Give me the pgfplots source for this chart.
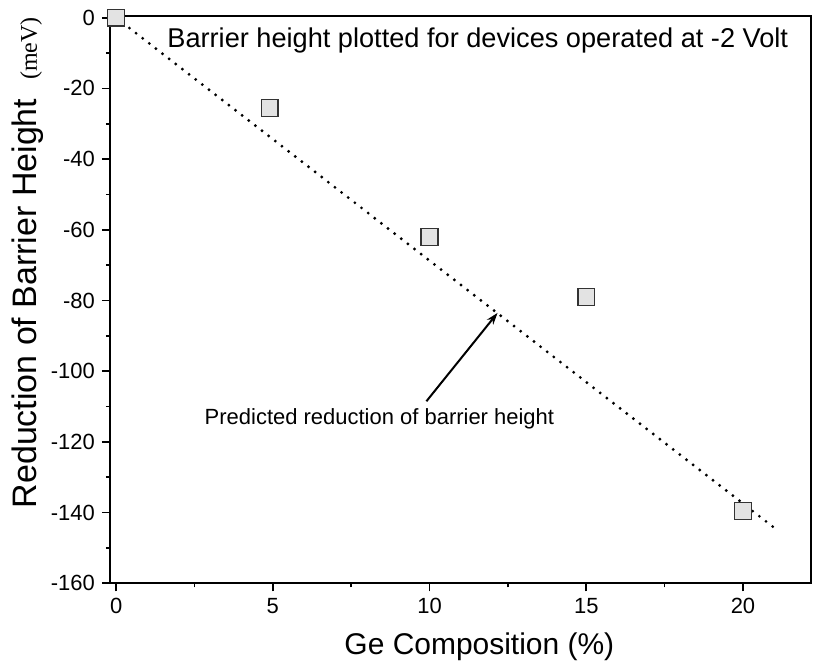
\documentclass[border=0pt]{standalone}
\usepackage{pgfplots}
\pgfplotsset{compat=1.18}
\usepackage{fontspec}
\setmainfont{Liberation Sans}
\newfontfamily\seriffont{Liberation Serif}
\usetikzlibrary{arrows.meta}
\begin{document}
\begin{tikzpicture}
\begin{axis}[
  at={(0,0)}, anchor=south west,
  scale only axis, width=351pt, height=284pt,
  xmin=-0.2, xmax=22.17, ymin=-160, ymax=0.5,
  xtick={0,5,10,15,20}, minor xtick={2.5,7.5,12.5,17.5},
  ytick={-160,-140,...,0}, minor ytick={-150,-130,...,-10},
  tick align=outside, xtick pos=bottom, ytick pos=left,
  major tick length=4pt, minor tick length=2pt,
  /pgf/number format/assume math mode=true,
  ticklabel style={font=\fontsize{11}{13}\selectfont},
  axis line style={line width=0.9pt},
  tick style={line width=0.8pt, black},
  xlabel={Ge Composition (\%)},
  xlabel style={font=\fontsize{15}{18}\selectfont, at={(axis description cs:0.527,-0.125)}, anchor=base},
  ylabel={Reduction of Barrier Height\ \ {\seriffont\fontsize{12}{14}\selectfont(meV)}},
  ylabel style={font=\fontsize{17}{20}\selectfont, at={(axis description cs:-0.104,0.565)}, anchor=base},
  clip=false,
]
% predicted reduction (dotted line)
\addplot[black, line width=1.6pt, line cap=round, dash pattern=on 0pt off 4.2pt] coordinates {(0,0) (21.1,-145)};
% measured
\addplot[only marks, mark=square*, mark size=4.2pt, mark options={fill=gray!22, draw=black!80, line width=0.7pt}]
  coordinates {(0,0) (4.9,-25.5) (10,-62) (15,-79) (20,-139.5)};
% arrow
\addplot[black, line width=1pt, -{Stealth[open, length=6pt, width=4pt]}] coordinates {(9.9,-108.5) (12.17,-83.5)};
\node[font=\fontsize{11}{13}\selectfont] at (axis cs:8.4,-113.4) {Predicted reduction of barrier height};
\node[font=\fontsize{13.6}{16}\selectfont, anchor=base west] at (axis description cs:0.072,0.944) {Barrier height plotted for devices operated at -2 Volt};
\end{axis}
\pgfresetboundingbox
\path (-55pt,-42pt) rectangle (352pt,292pt);
\end{tikzpicture}
\end{document}
